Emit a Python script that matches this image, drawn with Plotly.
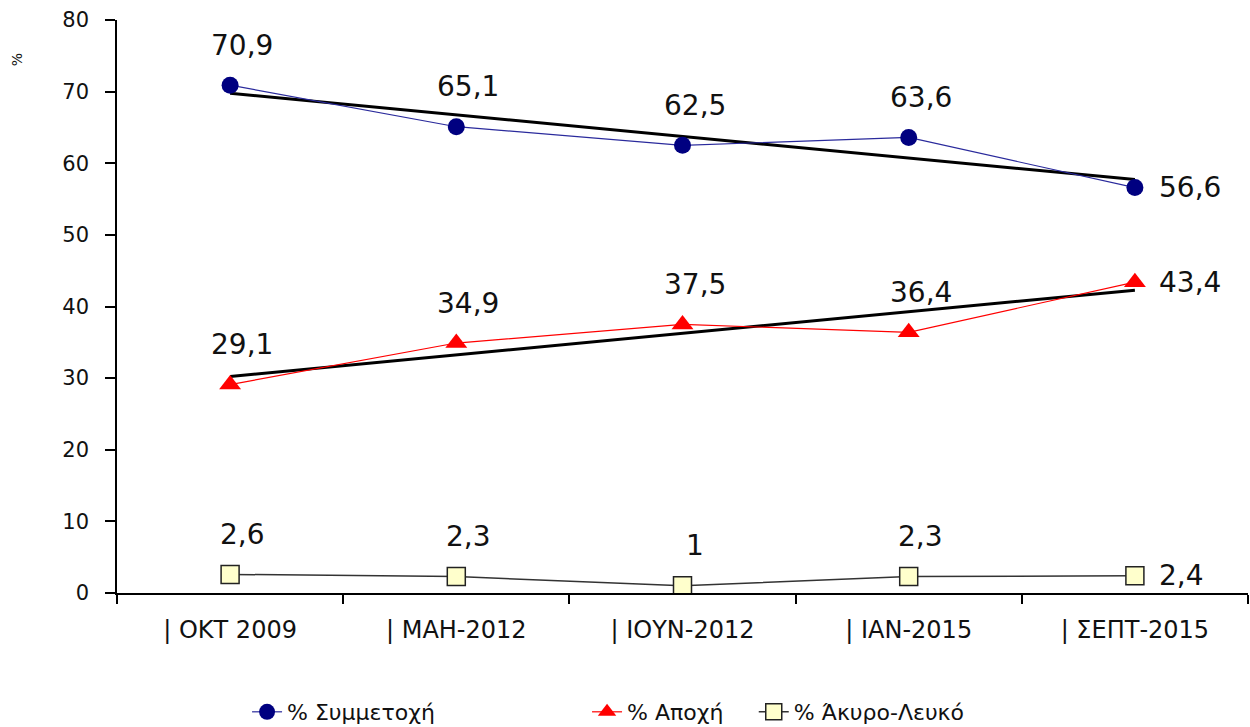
import numpy as np
import plotly.graph_objects as go

categories = ["| ΟΚΤ 2009", "| ΜΑΗ-2012", "| ΙΟΥΝ-2012", "| ΙΑΝ-2015", "| ΣΕΠΤ-2015"]
participation = [70.9, 65.1, 62.5, 63.6, 56.6]
abstention = [29.1, 34.9, 37.5, 36.4, 43.4]
invalid = [2.6, 2.3, 1.0, 2.3, 2.4]
labels_part = ["70,9", "65,1", "62,5", "63,6", "56,6"]
labels_abst = ["29,1", "34,9", "37,5", "36,4", "43,4"]
labels_inv = ["2,6", "2,3", "1", "2,3", "2,4"]

idx = np.arange(len(categories))

def trend(vals):
    k, b = np.polyfit(idx, vals, 1)
    return list(k * idx + b)

FONT = "DejaVu Sans, Liberation Sans, Arial, sans-serif"

fig = go.Figure()

# linear trend lines
for vals in (participation, abstention):
    fig.add_trace(go.Scatter(x=categories, y=trend(vals), mode="lines",
                             line=dict(color="black", width=3), showlegend=False,
                             hoverinfo="skip"))

fig.add_trace(go.Scatter(x=categories, y=participation, mode="lines+markers",
                         name="% Συμμετοχή", legend="legend",
                         line=dict(color="#2a2a9c", width=1.2),
                         marker=dict(symbol="circle", size=17, color="#000080")))
fig.add_trace(go.Scatter(x=categories, y=abstention, mode="lines+markers",
                         name="% Αποχή", legend="legend2",
                         line=dict(color="#ff0000", width=1.2),
                         marker=dict(symbol="triangle-up", size=19, color="#ff0000")))
fig.add_trace(go.Scatter(x=categories, y=invalid, mode="lines+markers",
                         name="% Άκυρο-Λευκό", legend="legend3",
                         line=dict(color="#333333", width=1.5),
                         marker=dict(symbol="square", size=18, color="#ffffcc",
                                     line=dict(color="#222222", width=1.5))))

annotations = []
for vals, labs in ((participation, labels_part), (abstention, labels_abst), (invalid, labels_inv)):
    for i, (v, t) in enumerate(zip(vals, labs)):
        last = i == len(vals) - 1
        annotations.append(dict(
            x=categories[i], y=v, text=t, showarrow=False,
            xanchor="left" if last else "center",
            yanchor="middle",
            xshift=22 if last else 12,
            yshift=0 if last else 40,
            font=dict(family=FONT, size=28, color="#111111")))

annotations.append(dict(xref="paper", yref="paper", x=-0.097, y=0.945, text="%",
                        showarrow=False, textangle=-90,
                        font=dict(family=FONT, size=14, color="#111")))

leg_common = dict(orientation="h", y=-0.2077, xanchor="left", yanchor="middle",
                  font=dict(size=22, family=FONT, color="#111"), bgcolor="rgba(0,0,0,0)")

fig.update_layout(
    width=1250, height=727,
    margin=dict(l=117, r=2, t=20, b=134, autoexpand=False),
    paper_bgcolor="white", plot_bgcolor="white",
    font=dict(family=FONT, color="#111111"),
    annotations=annotations,
    legend=dict(leg_common, x=0.115),
    legend2=dict(leg_common, x=0.4156),
    legend3=dict(leg_common, x=0.563),
    showlegend=True,
)
fig.update_xaxes(type="category", range=[-0.5, 4.5], showline=True, linecolor="black",
                 linewidth=1.5, ticks="outside", tickson="boundaries", ticklen=9,
                 tickcolor="black", tickwidth=1.5, showgrid=False,
                 tickfont=dict(family=FONT, size=24, color="#111"),
                 ticklabelstandoff=14)
fig.update_yaxes(range=[0, 80], dtick=10, showline=True, linecolor="black", linewidth=1.5,
                 ticks="outside", ticklen=10, tickcolor="black", tickwidth=1.5,
                 showgrid=False, zeroline=False,
                 tickfont=dict(family=FONT, size=21, color="#111"), ticklabelstandoff=12)

fig.write_html("out.html", config={"displayModeBar": False},
               post_script="document.body.style.margin='0';document.body.style.overflow='hidden';")
